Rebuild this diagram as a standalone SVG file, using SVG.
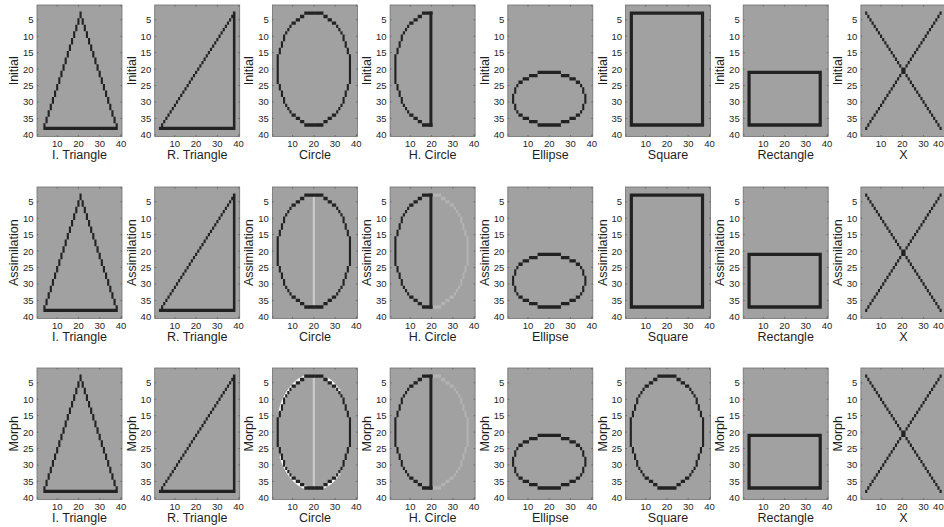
<svg xmlns="http://www.w3.org/2000/svg" xmlns:xlink="http://www.w3.org/1999/xlink" width="944" height="527" viewBox="0 0 944 527">
<style>
.bg{fill:#a1a1a1;stroke:#707070;stroke-width:.8}
.ink{fill:#222}
.lt{fill:#cbcbcb}
.gh{fill:#b3b3b3}
.halo{fill:none;stroke:#f4f4f4;stroke-width:1.1}
.tk{fill:none;stroke:#4a4a4a;stroke-width:.6}
text{font-family:"Liberation Sans",Arial,sans-serif;fill:#1e1e1e}
.yt{font-size:9.5px;text-anchor:end}
.xt{font-size:9.5px;text-anchor:middle}
.xe{font-size:9.5px;text-anchor:end}
.lb{font-size:12.5px;text-anchor:middle}
</style>
<defs>
<path id="itri" d="M20 2h1v2h-1zm-1 2h1v2h-1zm-1 2h1v2h-1zm-1 2h1v2h-1zm-1 2h1v2h-1zm-1 2h1v2h-1zm-1 2h1v2h-1zm-1 2h1v2h-1zm-1 2h1v2h-1zm-1 2h1v2h-1zm-1 2h1v2h-1zm-1 2h1v2h-1zm-1 2h1v2h-1zm-1 2h1v2h-1zm-1 2h1v2h-1zm-1 2h1v2h-1zm-1 2h1v2h-1zm-1 2h1v2h-1zM21 4h1v2h-1zm1 2h1v2h-1zm1 2h1v2h-1zm1 2h1v2h-1zm1 2h1v2h-1zm1 2h1v2h-1zm1 2h1v2h-1zm1 2h1v2h-1zm1 2h1v2h-1zm1 2h1v2h-1zm1 2h1v2h-1zm1 2h1v2h-1zm1 2h1v2h-1zm1 2h1v2h-1zm1 2h1v2h-1zm1 2h1v2h-1zm1 2h1v2h-1zM3 37h35v1h-35z"/>
<path id="rtri" d="M36.8 2h1.2v36h-1.2zM2 37h36v1h-36zM37 2h1v1h-1zm-1 1h1v1h-1zm-1 1h1v1h-1zm-1 1h1v1h-1zm-1 1h1v1h-1zm-1 1h1v1h-1zm-1 1h1v1h-1zm-1 1h1v1h-1zm-1 1h1v1h-1zm-1 1h1v1h-1zm-1 1h1v1h-1zm-1 1h1v1h-1zm-1 1h1v1h-1zm-1 1h1v1h-1zm-1 1h1v1h-1zm-1 1h1v1h-1zm-1 1h1v1h-1zm-1 1h1v1h-1zm-1 1h1v1h-1zm-1 1h1v1h-1zm-1 1h1v1h-1zm-1 1h1v1h-1zm-1 1h1v1h-1zm-1 1h1v1h-1zm-1 1h1v1h-1zm-1 1h1v1h-1zm-1 1h1v1h-1zm-1 1h1v1h-1zm-1 1h1v1h-1zm-1 1h1v1h-1zm-1 1h1v1h-1zm-1 1h1v1h-1zm-1 1h1v1h-1zm-1 1h1v1h-1zm-1 1h1v1h-1zm-1 1h1v1h-1z"/>
<path id="xx" d="M2 2h1v1h-1zm1 1h1v1h-1zm1 1h1v1h-1zm1 1h1v1h-1zm1 1h1v1h-1zm1 1h1v1h-1zm1 1h1v1h-1zm1 1h1v1h-1zm1 1h1v1h-1zm1 1h1v1h-1zm1 1h1v1h-1zm1 1h1v1h-1zm1 1h1v1h-1zm1 1h1v1h-1zm1 1h1v1h-1zm1 1h1v1h-1zm1 1h1v1h-1zm1 1h1v1h-1zm1 1h1v1h-1zm1 1h1v1h-1zm1 1h1v1h-1zm1 1h1v1h-1zm1 1h1v1h-1zm1 1h1v1h-1zm1 1h1v1h-1zm1 1h1v1h-1zm1 1h1v1h-1zm1 1h1v1h-1zm1 1h1v1h-1zm1 1h1v1h-1zm1 1h1v1h-1zm1 1h1v1h-1zm1 1h1v1h-1zm1 1h1v1h-1zm1 1h1v1h-1zm1 1h1v1h-1zM37 2h1v1h-1zm-1 1h1v1h-1zm-1 1h1v1h-1zm-1 1h1v1h-1zm-1 1h1v1h-1zm-1 1h1v1h-1zm-1 1h1v1h-1zm-1 1h1v1h-1zm-1 1h1v1h-1zm-1 1h1v1h-1zm-1 1h1v1h-1zm-1 1h1v1h-1zm-1 1h1v1h-1zm-1 1h1v1h-1zm-1 1h1v1h-1zm-1 1h1v1h-1zm-1 1h1v1h-1zm-1 1h1v1h-1zm-1 1h1v1h-1zm-1 1h1v1h-1zm-1 1h1v1h-1zm-1 1h1v1h-1zm-1 1h1v1h-1zm-1 1h1v1h-1zm-1 1h1v1h-1zm-1 1h1v1h-1zm-1 1h1v1h-1zm-1 1h1v1h-1zm-1 1h1v1h-1zm-1 1h1v1h-1zm-1 1h1v1h-1zm-1 1h1v1h-1zm-1 1h1v1h-1zm-1 1h1v1h-1zm-1 1h1v1h-1zm-1 1h1v1h-1z"/>
<path id="cL" d="M15 2h5v1h-5zM15 36h5v1h-5zM13 3h2v1h-2zM13 35h2v1h-2zM11 4h2v1h-2zM11 34h2v1h-2zM9 5h2v1h-2zM9 33h2v1h-2zM8 6h1v1h-1zM8 32h1v1h-1zM7 7h1v1h-1zM7 31h1v1h-1zM6 8h1v1h-1zM6 30h1v1h-1zM5 9h1v2h-1zM5 28h1v2h-1zM4 11h1v2h-1zM4 26h1v2h-1zM3 13h1v2h-1zM3 24h1v2h-1zM2 15h1v9h-1z"/>
<path id="cR" d="M20 2h4v1h-4zM20 36h4v1h-4zM24 3h2v1h-2zM24 35h2v1h-2zM26 4h2v1h-2zM26 34h2v1h-2zM28 5h2v1h-2zM28 33h2v1h-2zM30 6h1v1h-1zM30 32h1v1h-1zM31 7h1v1h-1zM31 31h1v1h-1zM32 8h1v1h-1zM32 30h1v1h-1zM33 9h1v2h-1zM33 28h1v2h-1zM34 11h1v2h-1zM34 26h1v2h-1zM35 13h1v2h-1zM35 24h1v2h-1zM36 15h1v9h-1z"/>
<g id="circ"><use href="#cL"/><use href="#cR"/></g>
<g id="hcirc"><use href="#cL"/><path d="M18.5 2h1.4v35h-1.4z"/></g>
<path id="vline" d="M19 3h1v33h-1z"/>
<path id="halo" d="M3.24 13.58A17.3 17.3 0 0 1 15.02 2.79M16.5 36.54A17.3 17.3 0 0 1 3.82 26.81M25.42 3.24A17.3 17.3 0 0 1 31.73 7.27M31.73 31.73A17.3 17.3 0 0 1 23.98 36.21"/>
<path id="ell" d="M14 20h11v1h-11zM14 36h11v1h-11zM25 21h4v1h-4zM10 21h4v1h-4zM25 35h4v1h-4zM10 35h4v1h-4zM29 22h3v1h-3zM7 22h3v1h-3zM29 34h3v1h-3zM7 34h3v1h-3zM32 23h2v1h-2zM5 23h2v1h-2zM32 33h2v1h-2zM5 33h2v1h-2zM34 24h1v1h-1zM4 24h1v1h-1zM34 32h1v1h-1zM4 32h1v1h-1zM35 25h1v2h-1zM3 25h1v2h-1zM35 30h1v2h-1zM3 30h1v2h-1zM36 27h1v3h-1zM2 27h1v3h-1z"/>
<path id="sq" d="M2 2h35v1h-35zM2 36h35v1h-35zM2 2h1.5v35h-1.5zM35.5 2h1.5v35h-1.5z"/>
<path id="rect" d="M2 20h35v1h-35zM2 36h35v1h-35zM2 20h1.5v17h-1.5zM35.5 20h1.5v17h-1.5z"/>
<path id="tk" class="tk" d="M0 14.79h1.5M0 31.23h1.5M0 47.67h1.5M0 64.11h1.5M0 80.54h1.5M0 96.98h1.5M0 113.42h1.5M0 129.86h1.5M85 14.79h-1.5M85 31.23h-1.5M85 47.67h-1.5M85 64.11h-1.5M85 80.54h-1.5M85 96.98h-1.5M85 113.42h-1.5M85 129.86h-1.5M20.19 131.5v-1.5M41.44 131.5v-1.5M62.69 131.5v-1.5M83.94 131.5v-1.5M20.19 0v1.5M41.44 0v1.5M62.69 0v1.5M83.94 0v1.5"/>
</defs>

<!-- Row 1: Initial -->
<g id="initial-i-triangle" transform="translate(37,5)">
<rect class="bg" width="85" height="131.5"/>
<use href="#itri" class="ink" transform="scale(2.125,3.2875)"/>
<use href="#tk"/>
<text class="yt"><tspan x="-3.5" y="18.2">5</tspan><tspan x="-3.5" y="34.6">10</tspan><tspan x="-3.5" y="51.1">15</tspan><tspan x="-3.5" y="67.5">20</tspan><tspan x="-3.5" y="83.9">25</tspan><tspan x="-3.5" y="100.4">30</tspan><tspan x="-3.5" y="116.8">35</tspan><tspan x="-3.5" y="133.3">40</tspan></text>
<text class="xt"><tspan x="20.19" y="142">10</tspan><tspan x="41.44" y="142">20</tspan><tspan x="62.69" y="142">30</tspan><tspan x="83.94" y="142">40</tspan></text>
<text class="lb" x="42.5" y="154">I. Triangle</text>
<text class="lb" transform="translate(-19,65.75) rotate(-90)">Initial</text>
</g>
<g id="initial-r-triangle" transform="translate(154.7,5)">
<rect class="bg" width="85" height="131.5"/>
<use href="#rtri" class="ink" transform="scale(2.125,3.2875)"/>
<use href="#tk"/>
<text class="yt"><tspan x="-3.5" y="18.2">5</tspan><tspan x="-3.5" y="34.6">10</tspan><tspan x="-3.5" y="51.1">15</tspan><tspan x="-3.5" y="67.5">20</tspan><tspan x="-3.5" y="83.9">25</tspan><tspan x="-3.5" y="100.4">30</tspan><tspan x="-3.5" y="116.8">35</tspan><tspan x="-3.5" y="133.3">40</tspan></text>
<text class="xt"><tspan x="20.19" y="142">10</tspan><tspan x="41.44" y="142">20</tspan><tspan x="62.69" y="142">30</tspan><tspan x="83.94" y="142">40</tspan></text>
<text class="lb" x="42.5" y="154">R. Triangle</text>
<text class="lb" transform="translate(-19,65.75) rotate(-90)">Initial</text>
</g>
<g id="initial-circle" transform="translate(272.4,5)">
<rect class="bg" width="85" height="131.5"/>
<use href="#circ" class="ink" transform="scale(2.125,3.2875)"/>
<use href="#tk"/>
<text class="yt"><tspan x="-3.5" y="18.2">5</tspan><tspan x="-3.5" y="34.6">10</tspan><tspan x="-3.5" y="51.1">15</tspan><tspan x="-3.5" y="67.5">20</tspan><tspan x="-3.5" y="83.9">25</tspan><tspan x="-3.5" y="100.4">30</tspan><tspan x="-3.5" y="116.8">35</tspan><tspan x="-3.5" y="133.3">40</tspan></text>
<text class="xt"><tspan x="20.19" y="142">10</tspan><tspan x="41.44" y="142">20</tspan><tspan x="62.69" y="142">30</tspan><tspan x="83.94" y="142">40</tspan></text>
<text class="lb" x="42.5" y="154">Circle</text>
<text class="lb" transform="translate(-19,65.75) rotate(-90)">Initial</text>
</g>
<g id="initial-h-circle" transform="translate(390.1,5)">
<rect class="bg" width="85" height="131.5"/>
<use href="#hcirc" class="ink" transform="scale(2.125,3.2875)"/>
<use href="#tk"/>
<text class="yt"><tspan x="-3.5" y="18.2">5</tspan><tspan x="-3.5" y="34.6">10</tspan><tspan x="-3.5" y="51.1">15</tspan><tspan x="-3.5" y="67.5">20</tspan><tspan x="-3.5" y="83.9">25</tspan><tspan x="-3.5" y="100.4">30</tspan><tspan x="-3.5" y="116.8">35</tspan><tspan x="-3.5" y="133.3">40</tspan></text>
<text class="xt"><tspan x="20.19" y="142">10</tspan><tspan x="41.44" y="142">20</tspan><tspan x="62.69" y="142">30</tspan><tspan x="83.94" y="142">40</tspan></text>
<text class="lb" x="42.5" y="154">H. Circle</text>
<text class="lb" transform="translate(-19,65.75) rotate(-90)">Initial</text>
</g>
<g id="initial-ellipse" transform="translate(507.8,5)">
<rect class="bg" width="85" height="131.5"/>
<use href="#ell" class="ink" transform="scale(2.125,3.2875)"/>
<use href="#tk"/>
<text class="yt"><tspan x="-3.5" y="18.2">5</tspan><tspan x="-3.5" y="34.6">10</tspan><tspan x="-3.5" y="51.1">15</tspan><tspan x="-3.5" y="67.5">20</tspan><tspan x="-3.5" y="83.9">25</tspan><tspan x="-3.5" y="100.4">30</tspan><tspan x="-3.5" y="116.8">35</tspan><tspan x="-3.5" y="133.3">40</tspan></text>
<text class="xt"><tspan x="20.19" y="142">10</tspan><tspan x="41.44" y="142">20</tspan><tspan x="62.69" y="142">30</tspan><tspan x="83.94" y="142">40</tspan></text>
<text class="lb" x="42.5" y="154">Ellipse</text>
<text class="lb" transform="translate(-19,65.75) rotate(-90)">Initial</text>
</g>
<g id="initial-square" transform="translate(625.5,5)">
<rect class="bg" width="85" height="131.5"/>
<use href="#sq" class="ink" transform="scale(2.125,3.2875)"/>
<use href="#tk"/>
<text class="yt"><tspan x="-3.5" y="18.2">5</tspan><tspan x="-3.5" y="34.6">10</tspan><tspan x="-3.5" y="51.1">15</tspan><tspan x="-3.5" y="67.5">20</tspan><tspan x="-3.5" y="83.9">25</tspan><tspan x="-3.5" y="100.4">30</tspan><tspan x="-3.5" y="116.8">35</tspan><tspan x="-3.5" y="133.3">40</tspan></text>
<text class="xt"><tspan x="20.19" y="142">10</tspan><tspan x="41.44" y="142">20</tspan><tspan x="62.69" y="142">30</tspan><tspan x="83.94" y="142">40</tspan></text>
<text class="lb" x="42.5" y="154">Square</text>
<text class="lb" transform="translate(-19,65.75) rotate(-90)">Initial</text>
</g>
<g id="initial-rectangle" transform="translate(743.2,5)">
<rect class="bg" width="85" height="131.5"/>
<use href="#rect" class="ink" transform="scale(2.125,3.2875)"/>
<use href="#tk"/>
<text class="yt"><tspan x="-3.5" y="18.2">5</tspan><tspan x="-3.5" y="34.6">10</tspan><tspan x="-3.5" y="51.1">15</tspan><tspan x="-3.5" y="67.5">20</tspan><tspan x="-3.5" y="83.9">25</tspan><tspan x="-3.5" y="100.4">30</tspan><tspan x="-3.5" y="116.8">35</tspan><tspan x="-3.5" y="133.3">40</tspan></text>
<text class="xt"><tspan x="20.19" y="142">10</tspan><tspan x="41.44" y="142">20</tspan><tspan x="62.69" y="142">30</tspan><tspan x="83.94" y="142">40</tspan></text>
<text class="lb" x="42.5" y="154">Rectangle</text>
<text class="lb" transform="translate(-19,65.75) rotate(-90)">Initial</text>
</g>
<g id="initial-x" transform="translate(860.9,5)">
<rect class="bg" width="85" height="131.5"/>
<use href="#xx" class="ink" transform="scale(2.125,3.2875)"/>
<use href="#tk"/>
<text class="yt"><tspan x="-3.5" y="18.2">5</tspan><tspan x="-3.5" y="34.6">10</tspan><tspan x="-3.5" y="51.1">15</tspan><tspan x="-3.5" y="67.5">20</tspan><tspan x="-3.5" y="83.9">25</tspan><tspan x="-3.5" y="100.4">30</tspan><tspan x="-3.5" y="116.8">35</tspan><tspan x="-3.5" y="133.3">40</tspan></text>
<text class="xt"><tspan x="20.19" y="142">10</tspan><tspan x="41.44" y="142">20</tspan><tspan x="62.69" y="142">30</tspan></text>
<text class="xe" x="82.8" y="142">40</text>
<text class="lb" x="42.5" y="154">X</text>
<text class="lb" transform="translate(-19,65.75) rotate(-90)">Initial</text>
</g>

<!-- Row 2: Assimilation -->
<g id="assimilation-i-triangle" transform="translate(37,187)">
<rect class="bg" width="85" height="131.5"/>
<use href="#itri" class="ink" transform="scale(2.125,3.2875)"/>
<use href="#tk"/>
<text class="yt"><tspan x="-3.5" y="18.2">5</tspan><tspan x="-3.5" y="34.6">10</tspan><tspan x="-3.5" y="51.1">15</tspan><tspan x="-3.5" y="67.5">20</tspan><tspan x="-3.5" y="83.9">25</tspan><tspan x="-3.5" y="100.4">30</tspan><tspan x="-3.5" y="116.8">35</tspan><tspan x="-3.5" y="133.3">40</tspan></text>
<text class="xt"><tspan x="20.19" y="142">10</tspan><tspan x="41.44" y="142">20</tspan><tspan x="62.69" y="142">30</tspan><tspan x="83.94" y="142">40</tspan></text>
<text class="lb" x="42.5" y="154">I. Triangle</text>
<text class="lb" transform="translate(-19,65.75) rotate(-90)">Assimilation</text>
</g>
<g id="assimilation-r-triangle" transform="translate(154.7,187)">
<rect class="bg" width="85" height="131.5"/>
<use href="#rtri" class="ink" transform="scale(2.125,3.2875)"/>
<use href="#tk"/>
<text class="yt"><tspan x="-3.5" y="18.2">5</tspan><tspan x="-3.5" y="34.6">10</tspan><tspan x="-3.5" y="51.1">15</tspan><tspan x="-3.5" y="67.5">20</tspan><tspan x="-3.5" y="83.9">25</tspan><tspan x="-3.5" y="100.4">30</tspan><tspan x="-3.5" y="116.8">35</tspan><tspan x="-3.5" y="133.3">40</tspan></text>
<text class="xt"><tspan x="20.19" y="142">10</tspan><tspan x="41.44" y="142">20</tspan><tspan x="62.69" y="142">30</tspan><tspan x="83.94" y="142">40</tspan></text>
<text class="lb" x="42.5" y="154">R. Triangle</text>
<text class="lb" transform="translate(-19,65.75) rotate(-90)">Assimilation</text>
</g>
<g id="assimilation-circle" transform="translate(272.4,187)">
<rect class="bg" width="85" height="131.5"/>
<use href="#vline" class="lt" transform="scale(2.125,3.2875)"/>
<use href="#circ" class="ink" transform="scale(2.125,3.2875)"/>
<use href="#tk"/>
<text class="yt"><tspan x="-3.5" y="18.2">5</tspan><tspan x="-3.5" y="34.6">10</tspan><tspan x="-3.5" y="51.1">15</tspan><tspan x="-3.5" y="67.5">20</tspan><tspan x="-3.5" y="83.9">25</tspan><tspan x="-3.5" y="100.4">30</tspan><tspan x="-3.5" y="116.8">35</tspan><tspan x="-3.5" y="133.3">40</tspan></text>
<text class="xt"><tspan x="20.19" y="142">10</tspan><tspan x="41.44" y="142">20</tspan><tspan x="62.69" y="142">30</tspan><tspan x="83.94" y="142">40</tspan></text>
<text class="lb" x="42.5" y="154">Circle</text>
<text class="lb" transform="translate(-19,65.75) rotate(-90)">Assimilation</text>
</g>
<g id="assimilation-h-circle" transform="translate(390.1,187)">
<rect class="bg" width="85" height="131.5"/>
<use href="#cR" class="gh" transform="scale(2.125,3.2875)"/>
<use href="#hcirc" class="ink" transform="scale(2.125,3.2875)"/>
<use href="#tk"/>
<text class="yt"><tspan x="-3.5" y="18.2">5</tspan><tspan x="-3.5" y="34.6">10</tspan><tspan x="-3.5" y="51.1">15</tspan><tspan x="-3.5" y="67.5">20</tspan><tspan x="-3.5" y="83.9">25</tspan><tspan x="-3.5" y="100.4">30</tspan><tspan x="-3.5" y="116.8">35</tspan><tspan x="-3.5" y="133.3">40</tspan></text>
<text class="xt"><tspan x="20.19" y="142">10</tspan><tspan x="41.44" y="142">20</tspan><tspan x="62.69" y="142">30</tspan><tspan x="83.94" y="142">40</tspan></text>
<text class="lb" x="42.5" y="154">H. Circle</text>
<text class="lb" transform="translate(-19,65.75) rotate(-90)">Assimilation</text>
</g>
<g id="assimilation-ellipse" transform="translate(507.8,187)">
<rect class="bg" width="85" height="131.5"/>
<use href="#ell" class="ink" transform="scale(2.125,3.2875)"/>
<use href="#tk"/>
<text class="yt"><tspan x="-3.5" y="18.2">5</tspan><tspan x="-3.5" y="34.6">10</tspan><tspan x="-3.5" y="51.1">15</tspan><tspan x="-3.5" y="67.5">20</tspan><tspan x="-3.5" y="83.9">25</tspan><tspan x="-3.5" y="100.4">30</tspan><tspan x="-3.5" y="116.8">35</tspan><tspan x="-3.5" y="133.3">40</tspan></text>
<text class="xt"><tspan x="20.19" y="142">10</tspan><tspan x="41.44" y="142">20</tspan><tspan x="62.69" y="142">30</tspan><tspan x="83.94" y="142">40</tspan></text>
<text class="lb" x="42.5" y="154">Ellipse</text>
<text class="lb" transform="translate(-19,65.75) rotate(-90)">Assimilation</text>
</g>
<g id="assimilation-square" transform="translate(625.5,187)">
<rect class="bg" width="85" height="131.5"/>
<use href="#sq" class="ink" transform="scale(2.125,3.2875)"/>
<use href="#tk"/>
<text class="yt"><tspan x="-3.5" y="18.2">5</tspan><tspan x="-3.5" y="34.6">10</tspan><tspan x="-3.5" y="51.1">15</tspan><tspan x="-3.5" y="67.5">20</tspan><tspan x="-3.5" y="83.9">25</tspan><tspan x="-3.5" y="100.4">30</tspan><tspan x="-3.5" y="116.8">35</tspan><tspan x="-3.5" y="133.3">40</tspan></text>
<text class="xt"><tspan x="20.19" y="142">10</tspan><tspan x="41.44" y="142">20</tspan><tspan x="62.69" y="142">30</tspan><tspan x="83.94" y="142">40</tspan></text>
<text class="lb" x="42.5" y="154">Square</text>
<text class="lb" transform="translate(-19,65.75) rotate(-90)">Assimilation</text>
</g>
<g id="assimilation-rectangle" transform="translate(743.2,187)">
<rect class="bg" width="85" height="131.5"/>
<use href="#rect" class="ink" transform="scale(2.125,3.2875)"/>
<use href="#tk"/>
<text class="yt"><tspan x="-3.5" y="18.2">5</tspan><tspan x="-3.5" y="34.6">10</tspan><tspan x="-3.5" y="51.1">15</tspan><tspan x="-3.5" y="67.5">20</tspan><tspan x="-3.5" y="83.9">25</tspan><tspan x="-3.5" y="100.4">30</tspan><tspan x="-3.5" y="116.8">35</tspan><tspan x="-3.5" y="133.3">40</tspan></text>
<text class="xt"><tspan x="20.19" y="142">10</tspan><tspan x="41.44" y="142">20</tspan><tspan x="62.69" y="142">30</tspan><tspan x="83.94" y="142">40</tspan></text>
<text class="lb" x="42.5" y="154">Rectangle</text>
<text class="lb" transform="translate(-19,65.75) rotate(-90)">Assimilation</text>
</g>
<g id="assimilation-x" transform="translate(860.9,187)">
<rect class="bg" width="85" height="131.5"/>
<use href="#xx" class="ink" transform="scale(2.125,3.2875)"/>
<use href="#tk"/>
<text class="yt"><tspan x="-3.5" y="18.2">5</tspan><tspan x="-3.5" y="34.6">10</tspan><tspan x="-3.5" y="51.1">15</tspan><tspan x="-3.5" y="67.5">20</tspan><tspan x="-3.5" y="83.9">25</tspan><tspan x="-3.5" y="100.4">30</tspan><tspan x="-3.5" y="116.8">35</tspan><tspan x="-3.5" y="133.3">40</tspan></text>
<text class="xt"><tspan x="20.19" y="142">10</tspan><tspan x="41.44" y="142">20</tspan><tspan x="62.69" y="142">30</tspan></text>
<text class="xe" x="82.8" y="142">40</text>
<text class="lb" x="42.5" y="154">X</text>
<text class="lb" transform="translate(-19,65.75) rotate(-90)">Assimilation</text>
</g>

<!-- Row 3: Morph -->
<g id="morph-i-triangle" transform="translate(37,368)">
<rect class="bg" width="85" height="131.5"/>
<use href="#itri" class="ink" transform="scale(2.125,3.2875)"/>
<use href="#tk"/>
<text class="yt"><tspan x="-3.5" y="18.2">5</tspan><tspan x="-3.5" y="34.6">10</tspan><tspan x="-3.5" y="51.1">15</tspan><tspan x="-3.5" y="67.5">20</tspan><tspan x="-3.5" y="83.9">25</tspan><tspan x="-3.5" y="100.4">30</tspan><tspan x="-3.5" y="116.8">35</tspan><tspan x="-3.5" y="133.3">40</tspan></text>
<text class="xt"><tspan x="20.19" y="142">10</tspan><tspan x="41.44" y="142">20</tspan><tspan x="62.69" y="142">30</tspan><tspan x="83.94" y="142">40</tspan></text>
<text class="lb" x="42.5" y="154">I. Triangle</text>
<text class="lb" transform="translate(-19,65.75) rotate(-90)">Morph</text>
</g>
<g id="morph-r-triangle" transform="translate(154.7,368)">
<rect class="bg" width="85" height="131.5"/>
<use href="#rtri" class="ink" transform="scale(2.125,3.2875)"/>
<use href="#tk"/>
<text class="yt"><tspan x="-3.5" y="18.2">5</tspan><tspan x="-3.5" y="34.6">10</tspan><tspan x="-3.5" y="51.1">15</tspan><tspan x="-3.5" y="67.5">20</tspan><tspan x="-3.5" y="83.9">25</tspan><tspan x="-3.5" y="100.4">30</tspan><tspan x="-3.5" y="116.8">35</tspan><tspan x="-3.5" y="133.3">40</tspan></text>
<text class="xt"><tspan x="20.19" y="142">10</tspan><tspan x="41.44" y="142">20</tspan><tspan x="62.69" y="142">30</tspan><tspan x="83.94" y="142">40</tspan></text>
<text class="lb" x="42.5" y="154">R. Triangle</text>
<text class="lb" transform="translate(-19,65.75) rotate(-90)">Morph</text>
</g>
<g id="morph-circle" transform="translate(272.4,368)">
<rect class="bg" width="85" height="131.5"/>
<use href="#halo" class="halo" transform="scale(2.125,3.2875)"/>
<use href="#vline" class="lt" transform="scale(2.125,3.2875)"/>
<use href="#circ" class="ink" transform="scale(2.125,3.2875)"/>
<use href="#tk"/>
<text class="yt"><tspan x="-3.5" y="18.2">5</tspan><tspan x="-3.5" y="34.6">10</tspan><tspan x="-3.5" y="51.1">15</tspan><tspan x="-3.5" y="67.5">20</tspan><tspan x="-3.5" y="83.9">25</tspan><tspan x="-3.5" y="100.4">30</tspan><tspan x="-3.5" y="116.8">35</tspan><tspan x="-3.5" y="133.3">40</tspan></text>
<text class="xt"><tspan x="20.19" y="142">10</tspan><tspan x="41.44" y="142">20</tspan><tspan x="62.69" y="142">30</tspan><tspan x="83.94" y="142">40</tspan></text>
<text class="lb" x="42.5" y="154">Circle</text>
<text class="lb" transform="translate(-19,65.75) rotate(-90)">Morph</text>
</g>
<g id="morph-h-circle" transform="translate(390.1,368)">
<rect class="bg" width="85" height="131.5"/>
<use href="#cR" class="gh" transform="scale(2.125,3.2875)"/>
<use href="#hcirc" class="ink" transform="scale(2.125,3.2875)"/>
<use href="#tk"/>
<text class="yt"><tspan x="-3.5" y="18.2">5</tspan><tspan x="-3.5" y="34.6">10</tspan><tspan x="-3.5" y="51.1">15</tspan><tspan x="-3.5" y="67.5">20</tspan><tspan x="-3.5" y="83.9">25</tspan><tspan x="-3.5" y="100.4">30</tspan><tspan x="-3.5" y="116.8">35</tspan><tspan x="-3.5" y="133.3">40</tspan></text>
<text class="xt"><tspan x="20.19" y="142">10</tspan><tspan x="41.44" y="142">20</tspan><tspan x="62.69" y="142">30</tspan><tspan x="83.94" y="142">40</tspan></text>
<text class="lb" x="42.5" y="154">H. Circle</text>
<text class="lb" transform="translate(-19,65.75) rotate(-90)">Morph</text>
</g>
<g id="morph-ellipse" transform="translate(507.8,368)">
<rect class="bg" width="85" height="131.5"/>
<use href="#ell" class="ink" transform="scale(2.125,3.2875)"/>
<use href="#tk"/>
<text class="yt"><tspan x="-3.5" y="18.2">5</tspan><tspan x="-3.5" y="34.6">10</tspan><tspan x="-3.5" y="51.1">15</tspan><tspan x="-3.5" y="67.5">20</tspan><tspan x="-3.5" y="83.9">25</tspan><tspan x="-3.5" y="100.4">30</tspan><tspan x="-3.5" y="116.8">35</tspan><tspan x="-3.5" y="133.3">40</tspan></text>
<text class="xt"><tspan x="20.19" y="142">10</tspan><tspan x="41.44" y="142">20</tspan><tspan x="62.69" y="142">30</tspan><tspan x="83.94" y="142">40</tspan></text>
<text class="lb" x="42.5" y="154">Ellipse</text>
<text class="lb" transform="translate(-19,65.75) rotate(-90)">Morph</text>
</g>
<g id="morph-square" transform="translate(625.5,368)">
<rect class="bg" width="85" height="131.5"/>
<use href="#circ" class="ink" transform="scale(2.125,3.2875)"/>
<use href="#tk"/>
<text class="yt"><tspan x="-3.5" y="18.2">5</tspan><tspan x="-3.5" y="34.6">10</tspan><tspan x="-3.5" y="51.1">15</tspan><tspan x="-3.5" y="67.5">20</tspan><tspan x="-3.5" y="83.9">25</tspan><tspan x="-3.5" y="100.4">30</tspan><tspan x="-3.5" y="116.8">35</tspan><tspan x="-3.5" y="133.3">40</tspan></text>
<text class="xt"><tspan x="20.19" y="142">10</tspan><tspan x="41.44" y="142">20</tspan><tspan x="62.69" y="142">30</tspan><tspan x="83.94" y="142">40</tspan></text>
<text class="lb" x="42.5" y="154">Square</text>
<text class="lb" transform="translate(-19,65.75) rotate(-90)">Morph</text>
</g>
<g id="morph-rectangle" transform="translate(743.2,368)">
<rect class="bg" width="85" height="131.5"/>
<use href="#rect" class="ink" transform="scale(2.125,3.2875)"/>
<use href="#tk"/>
<text class="yt"><tspan x="-3.5" y="18.2">5</tspan><tspan x="-3.5" y="34.6">10</tspan><tspan x="-3.5" y="51.1">15</tspan><tspan x="-3.5" y="67.5">20</tspan><tspan x="-3.5" y="83.9">25</tspan><tspan x="-3.5" y="100.4">30</tspan><tspan x="-3.5" y="116.8">35</tspan><tspan x="-3.5" y="133.3">40</tspan></text>
<text class="xt"><tspan x="20.19" y="142">10</tspan><tspan x="41.44" y="142">20</tspan><tspan x="62.69" y="142">30</tspan><tspan x="83.94" y="142">40</tspan></text>
<text class="lb" x="42.5" y="154">Rectangle</text>
<text class="lb" transform="translate(-19,65.75) rotate(-90)">Morph</text>
</g>
<g id="morph-x" transform="translate(860.9,368)">
<rect class="bg" width="85" height="131.5"/>
<use href="#xx" class="ink" transform="scale(2.125,3.2875)"/>
<use href="#tk"/>
<text class="yt"><tspan x="-3.5" y="18.2">5</tspan><tspan x="-3.5" y="34.6">10</tspan><tspan x="-3.5" y="51.1">15</tspan><tspan x="-3.5" y="67.5">20</tspan><tspan x="-3.5" y="83.9">25</tspan><tspan x="-3.5" y="100.4">30</tspan><tspan x="-3.5" y="116.8">35</tspan><tspan x="-3.5" y="133.3">40</tspan></text>
<text class="xt"><tspan x="20.19" y="142">10</tspan><tspan x="41.44" y="142">20</tspan><tspan x="62.69" y="142">30</tspan></text>
<text class="xe" x="82.8" y="142">40</text>
<text class="lb" x="42.5" y="154">X</text>
<text class="lb" transform="translate(-19,65.75) rotate(-90)">Morph</text>
</g>
<g id="connectors"/>
</svg>
